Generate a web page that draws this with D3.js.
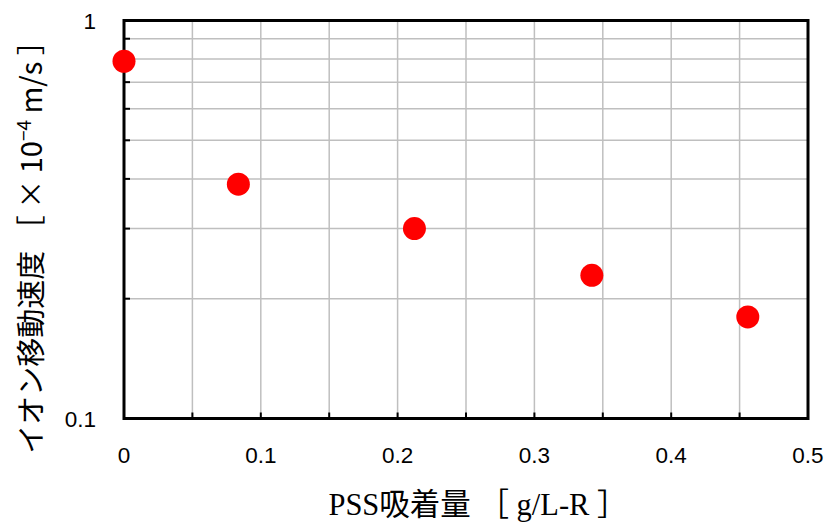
<!DOCTYPE html>
<html>
<head>
<meta charset="utf-8">
<script src="https://cdn.jsdelivr.net/npm/d3@7"></script>
<style>
  html, body { margin: 0; padding: 0; background: #fff; }
  svg { display: block; }
</style>
</head>
<body>
<svg id="chart" width="825" height="527"></svg>
<script>
// PSS adsorption vs. ion migration speed
const adsorption = [0, 0.0836, 0.2123, 0.342, 0.456];       // g/L-R
const speed      = [0.79, 0.388, 0.30, 0.229, 0.180];       // ×10^-4 m/s
const xTicks = [0, 0.1, 0.2, 0.3, 0.4, 0.5];
const xGrid  = [0.05, 0.1, 0.15, 0.2, 0.25, 0.3, 0.35, 0.4, 0.45];
const yTicks = [0.1, 1];
const yGrid  = [0.2, 0.3, 0.4, 0.5, 0.6, 0.7, 0.8, 0.9];

const svg = d3.select("#chart");
const m = { left: 124, top: 20.5, right: 808, bottom: 418.5 };

const x = d3.scaleLinear().domain([0, 0.5]).range([m.left, m.right]);
const y = d3.scaleLog().domain([0.1, 1]).range([m.bottom, m.top]);

// grid
svg.append("g").selectAll("line").data(xGrid).join("line")
  .attr("x1", d => x(d)).attr("x2", d => x(d))
  .attr("y1", m.top).attr("y2", m.bottom)
  .attr("stroke", "#bfbfbf").attr("stroke-width", 1.5);
svg.append("g").selectAll("line").data(yGrid).join("line")
  .attr("y1", d => y(d)).attr("y2", d => y(d))
  .attr("x1", m.left).attr("x2", m.right)
  .attr("stroke", "#bfbfbf").attr("stroke-width", 1.5);

// inward ticks
svg.append("g").selectAll("line").data(xGrid).join("line")
  .attr("x1", d => x(d)).attr("x2", d => x(d))
  .attr("y1", m.bottom).attr("y2", m.bottom - 6)
  .attr("stroke", "#000").attr("stroke-width", 2);
svg.append("g").selectAll("line").data(yGrid).join("line")
  .attr("y1", d => y(d)).attr("y2", d => y(d))
  .attr("x1", m.left).attr("x2", m.left + 6)
  .attr("stroke", "#000").attr("stroke-width", 2);

// frame
svg.append("rect")
  .attr("x", m.left).attr("y", m.top)
  .attr("width", m.right - m.left).attr("height", m.bottom - m.top)
  .attr("fill", "none").attr("stroke", "#000").attr("stroke-width", 3);

// tick labels
const tickFont = "'Liberation Sans', Arial, sans-serif";
svg.append("g").selectAll("text").data(xTicks).join("text")
  .attr("x", d => x(d)).attr("y", 463)
  .attr("text-anchor", "middle")
  .attr("font-family", tickFont).attr("font-size", 22.5)
  .text(d => d3.format("")(d));
svg.append("g").selectAll("text").data(yTicks).join("text")
  .attr("x", 96).attr("y", d => y(d) + 8.5)
  .attr("text-anchor", "end")
  .attr("font-family", tickFont).attr("font-size", 22.5)
  .text(d => d);

// points
svg.append("g").selectAll("circle").data(adsorption).join("circle")
  .attr("cx", d => x(d)).attr("cy", (d, i) => y(speed[i]))
  .attr("r", 11.5).attr("fill", "#ff0000");

// axis titles
const ytitle = svg.append("text")
  .attr("transform", "translate(42,240) rotate(-90)")
  .attr("text-anchor", "middle")
  .attr("font-family", "'Noto Sans CJK JP', 'Liberation Sans', sans-serif")
  .attr("font-size", 29);
ytitle.append("tspan").text("イオン移動速度 ［ × 10");
ytitle.append("tspan").attr("dy", -11).attr("font-size", 19).text("−4");
ytitle.append("tspan").attr("dy", 11).text(" m/s ］");

svg.append("text")
  .attr("x", 478).attr("y", 515)
  .attr("text-anchor", "middle")
  .attr("font-family", "'Liberation Serif', 'Noto Sans CJK JP', serif")
  .attr("font-size", 30.5)
  .text("PSS吸着量 ［ g/L-R ］");
</script>
</body>
</html>
